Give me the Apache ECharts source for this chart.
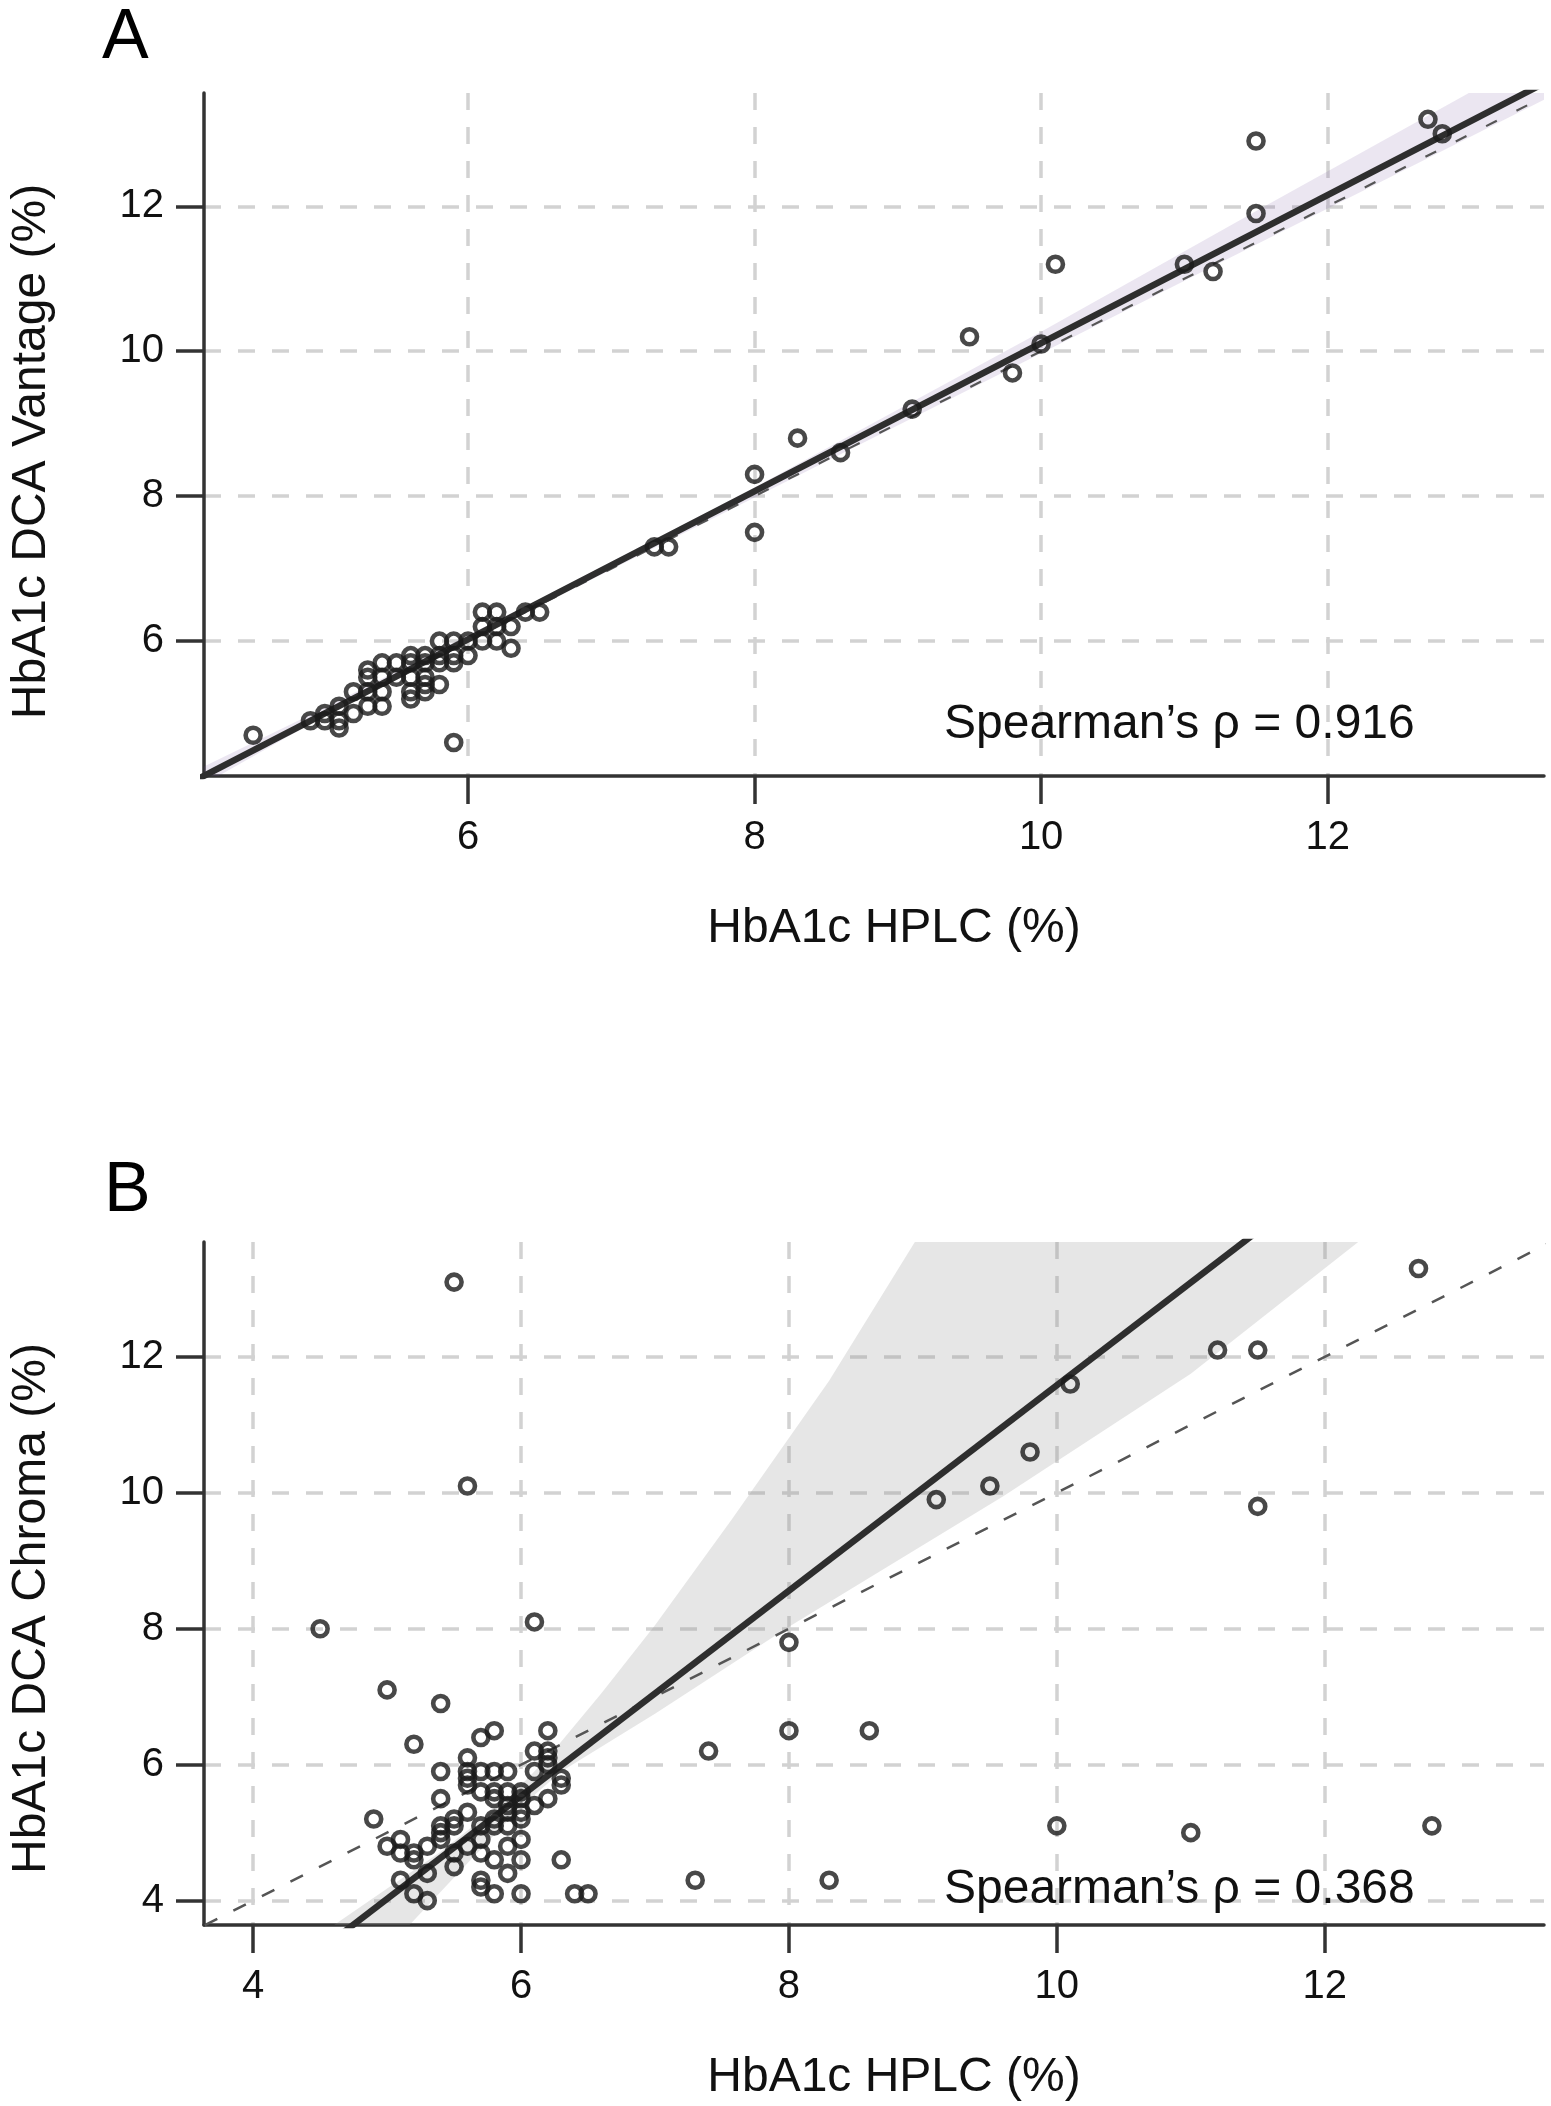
<!DOCTYPE html>
<html>
<head>
<meta charset="utf-8">
<script src="https://cdn.jsdelivr.net/npm/echarts@6/dist/echarts.min.js"></script>
<style>
html,body{margin:0;padding:0;background:#fff;}
#c{width:1551px;height:2106px;}
</style>
</head>
<body>
<div id="c"></div>
<script>
// ---------- Panel A: HPLC vs DCA Vantage ----------
const hplcA = [12.7,12.8,11.5,11.5,11.0,11.2,10.1,10.0,9.8,9.5,9.1,8.6,8.3,8.0,8.0,7.3,7.4,4.5,5.9,
  4.9,5.0,5.0,5.1,5.1,5.1,5.2,5.2,5.3,5.3,5.3,5.3,5.4,5.4,5.4,5.4,5.5,5.5,5.6,5.6,5.6,5.6,5.6,
  5.7,5.7,5.7,5.7,5.7,5.8,5.8,5.8,5.8,5.9,5.9,5.9,6.0,6.0,6.1,6.2,6.1,6.1,6.2,6.2,6.3,6.3,6.4,6.5];
const vantageA = [13.2,13.0,12.9,11.9,11.2,11.1,11.2,10.1,9.7,10.2,9.2,8.6,8.8,8.3,7.5,7.3,7.3,4.7,4.6,
  4.9,5.0,4.9,5.1,4.8,4.9,5.0,5.3,5.6,5.5,5.3,5.1,5.7,5.5,5.3,5.1,5.7,5.5,5.8,5.7,5.5,5.3,5.2,
  5.8,5.7,5.5,5.4,5.3,6.0,5.8,5.7,5.4,6.0,5.8,5.7,6.0,5.8,6.4,6.4,6.2,6.0,6.2,6.0,6.2,5.9,6.4,6.4];
const fitA = [[4.0, 3.98], [13.6, 13.79]];
const identityA = [[4.0, 4.0], [14.0, 14.0]];
const bandUpperA = [[4.0,4.12],[5.0,5.08],[6.5,6.58],[8.0,8.12],[10.0,10.27],[11.57,12.01],[12.97,13.545],[13.6,14.3]];
const bandLowerA = [[4.0,3.85],[5.0,4.97],[6.5,6.49],[8.0,7.98],[10.0,9.97],[11.47,11.44],[13.55,13.51],[13.7,13.66]];
const ticksAx = [6, 8, 10, 12];
const ticksAy = [6, 8, 10, 12];
const rhoA = "Spearman\u2019s \u03c1 = 0.916";

// ---------- Panel B: HPLC vs DCA Chroma ----------
const hplcB = [5.5,5.6,4.5,6.1,5.0,5.4,5.2,8.0,8.0,8.6,7.4,10.0,11.0,12.8,7.3,8.3,9.1,9.5,9.8,10.1,11.2,11.5,11.5,12.7,6.4,6.5,6.3,4.9,
  5.7,5.8,6.2,6.1,6.2,6.2,6.2,5.6,5.6,5.4,5.6,5.7,5.8,5.9,6.1,6.3,6.3,5.6,5.7,5.8,5.9,6.0,5.8,5.4,6.2,6.1,6.0,5.6,5.9,6.0,5.8,5.5,
  5.4,5.4,5.5,5.7,5.8,5.9,5.1,5.0,5.1,5.2,5.3,5.2,5.4,5.5,5.6,5.7,5.7,5.8,5.9,6.0,6.0,5.3,5.5,5.1,5.2,5.3,5.7,5.7,5.8,5.9,6.0,6.0,5.9];
const chromaB = [13.1,10.1,8.0,8.1,7.1,6.9,6.3,7.8,6.5,6.5,6.2,5.1,5.0,5.1,4.3,4.3,9.9,10.1,10.6,11.6,12.1,12.1,9.8,13.3,4.1,4.1,4.6,5.2,
  6.4,6.5,6.5,6.2,6.2,6.1,6.0,6.1,5.9,5.9,5.8,5.9,5.9,5.9,5.9,5.8,5.7,5.7,5.6,5.6,5.6,5.6,5.5,5.5,5.5,5.4,5.3,5.3,5.3,5.2,5.2,5.2,
  5.1,5.0,5.1,5.1,5.1,5.1,4.9,4.8,4.7,4.7,4.8,4.6,4.9,4.7,4.8,4.9,4.7,4.6,4.8,4.9,4.6,4.4,4.5,4.3,4.1,4.0,4.3,4.2,4.1,4.4,4.1,5.5,5.4];
const fitB = [[4.5, 3.27], [11.6, 14.0]];
const identityB = [[3.0, 3.0], [14.0, 14.0]];
const bandUpperB = [[4.5,3.5],[5.4,4.72],[5.9,5.5],[6.2,6.1],[6.6,7.05],[7.0,8.05],[7.57,9.6],[8.3,11.65],[8.94,13.69],[9.1,14.2]];
const bandLowerB = [[5.1,3.5],[5.6,4.55],[6.0,5.38],[6.3,5.9],[7.0,6.75],[8.0,8.03],[9.6,9.95],[11.0,11.75],[12.25,13.69],[12.5,14.1]];
const ticksBx = [4, 6, 8, 10, 12];
const ticksBy = [4, 6, 8, 10, 12];
const rhoB = "Spearman\u2019s \u03c1 = 0.368";

const xTitle = "HbA1c HPLC (%)";
const yTitleA = "HbA1c DCA Vantage (%)";
const yTitleB = "HbA1c DCA Chroma (%)";

// ---------- styling ----------
const FONT = "'Liberation Sans', Arial, Helvetica, sans-serif";
const AX = '#333333';

function zip(xs, ys) { return xs.map((x, i) => [x, ys[i]]); }

function xAxisDef(gi, min, max, ticks) {
  return {
    type: 'value', gridIndex: gi, min: min, max: max,
    axisLine: { show: true, onZero: false, lineStyle: { color: AX, width: 3.5 } },
    axisTick: { show: true, inside: false, length: 28, customValues: ticks, lineStyle: { color: AX, width: 3.5 } },
    axisLabel: { customValues: ticks, margin: 42, fontSize: 40, color: '#111', fontFamily: FONT },
    splitLine: { show: true, lineStyle: { color: '#d2d2d2', width: 3.5, type: [17, 17] } },
    name: xTitle, nameLocation: 'middle', nameGap: 129,
    nameTextStyle: { fontSize: 48, color: '#111', fontFamily: FONT, padding: [0, 0, 0, 40] }
  };
}
function yAxisDef(gi, min, max, ticks, title, shift) {
  return {
    type: 'value', gridIndex: gi, min: min, max: max,
    axisLine: { show: true, onZero: false, lineStyle: { color: AX, width: 3.5 } },
    axisTick: { show: true, inside: false, length: 28, customValues: ticks, lineStyle: { color: AX, width: 3.5 } },
    axisLabel: { customValues: ticks, margin: 40, fontSize: 40, color: '#111', fontFamily: FONT },
    splitLine: { show: true, lineStyle: { color: '#d2d2d2', width: 3.5, type: [17, 17] } },
    name: title, nameLocation: 'middle', nameGap: 148, nameRotate: 90,
    nameTextStyle: { fontSize: 48, color: '#111', fontFamily: FONT, padding: [0, shift, 0, 0] }
  };
}
function bandSeries(gi, upper, lower, color) {
  return {
    type: 'custom', xAxisIndex: gi, yAxisIndex: gi, clip: true, silent: true, z: 1,
    data: upper,
    renderItem: function (params, api) {
      if (params.dataIndex !== 0) return null;
      const pts = upper.map(p => api.coord(p)).concat(lower.slice().reverse().map(p => api.coord(p)));
      return { type: 'polygon', shape: { points: pts }, style: { fill: color } };
    }
  };
}
function lineSeries(gi, data, width, color, type, z) {
  return {
    type: 'line', xAxisIndex: gi, yAxisIndex: gi, data: data, showSymbol: false, symbol: 'none',
    clip: true, silent: true, z: z,
    lineStyle: { color: color, width: width, type: type }
  };
}
function scatterSeries(gi, data) {
  return {
    type: 'scatter', xAxisIndex: gi, yAxisIndex: gi, data: data, symbol: 'circle', symbolSize: 15, z: 5,
    itemStyle: { color: 'rgba(0,0,0,0)', borderColor: '#1a1a1a', borderWidth: 4.6 }
  };
}

const chart = echarts.init(document.getElementById('c'), null, { renderer: 'canvas' });
chart.setOption({
  animation: false,
  backgroundColor: '#fff',
  grid: [
    { left: 199, top: 93, width: 1345, height: 683 },
    { left: 199, top: 1242, width: 1345, height: 683 }
  ],
  xAxis: [
    xAxisDef(0, 4.157, 13.51, ticksAx),
    xAxisDef(1, 3.633, 13.637, ticksBx)
  ],
  yAxis: [
    yAxisDef(0, 4.138, 13.563, ticksAy, yTitleA, 34),
    yAxisDef(1, 3.641, 13.69, ticksBy, yTitleB, 50)
  ],
  graphic: [
    { type: 'text', z: 100, left: 102, top: 4, style: { text: 'A', fontSize: 70, fill: '#000', fontFamily: FONT } },
    { type: 'text', z: 100, left: 104, top: 1157, style: { text: 'B', fontSize: 70, fill: '#000', fontFamily: FONT } },
    { type: 'text', z: 100, left: 944, top: 701, style: { text: rhoA, fontSize: 48, fill: '#111', fontFamily: FONT } },
    { type: 'text', z: 100, left: 944, top: 1866, style: { text: rhoB, fontSize: 48, fill: '#111', fontFamily: FONT } }
  ],
  series: [
    bandSeries(0, bandUpperA, bandLowerA, 'rgba(120,90,160,0.15)'),
    lineSeries(0, identityA, 2.2, '#555', [12, 22], 2),
    lineSeries(0, fitA, 6.5, '#2e2e2e', 'solid', 3),
    scatterSeries(0, zip(hplcA, vantageA)),
    bandSeries(1, bandUpperB, bandLowerB, 'rgba(140,140,140,0.22)'),
    lineSeries(1, identityB, 2.5, '#555', [14, 18], 2),
    lineSeries(1, fitB, 6.5, '#2e2e2e', 'solid', 3),
    scatterSeries(1, zip(hplcB, chromaB))
  ]
});
</script>
</body>
</html>
